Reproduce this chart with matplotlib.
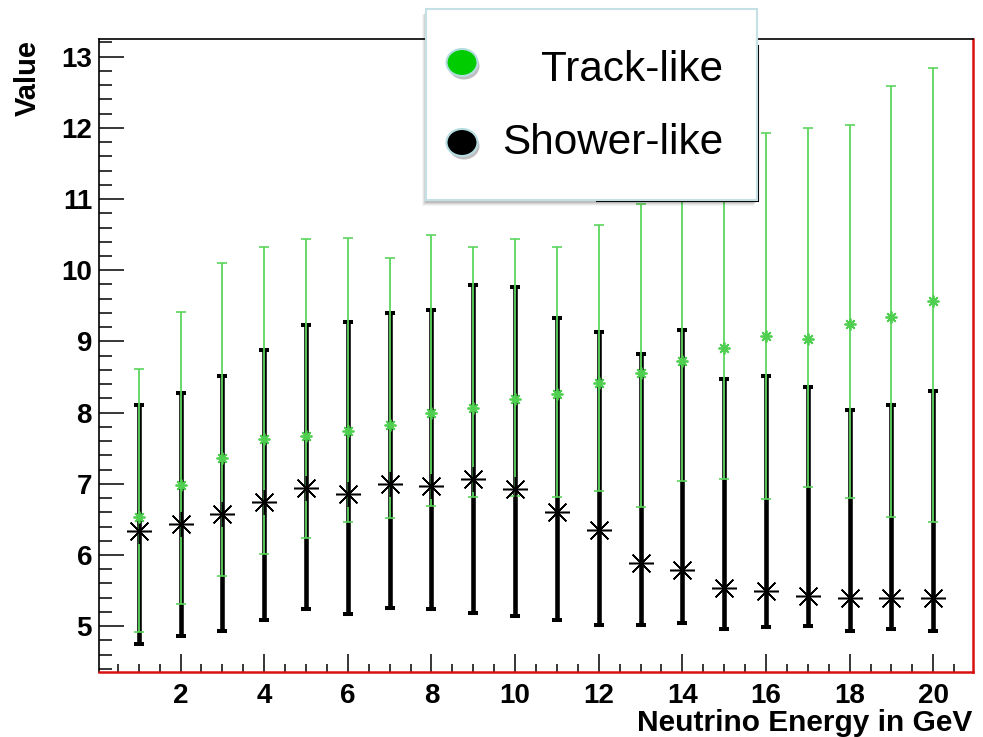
import matplotlib
matplotlib.use("Agg")

import matplotlib.pyplot as plt
import numpy as np
from matplotlib.patches import Ellipse, Rectangle
from matplotlib.ticker import MultipleLocator


# energia del neutrino (GeV), un punto por bin
energia = np.arange(1, 21)

# Track-like: valor central, limite inferior y superior de la banda
track_val = [6.54, 6.99, 7.36, 7.63, 7.67, 7.74, 7.82, 7.99, 8.07, 8.19,
             8.26, 8.41, 8.56, 8.73, 8.91, 9.08, 9.03, 9.25, 9.34, 9.57]
track_low = [4.92, 5.31, 5.70, 6.02, 6.24, 6.47, 6.52, 6.69, 6.82, 6.83,
             6.81, 6.90, 6.68, 7.04, 7.07, 6.79, 6.95, 6.80, 6.53, 6.46]
track_up = [8.61, 9.42, 10.10, 10.33, 10.44, 10.46, 10.17, 10.49, 10.32, 10.44,
            10.32, 10.64, 10.93, 11.25, 11.55, 11.93, 12.00, 12.04, 12.59, 12.84]

# Shower-like
shower_val = [6.33, 6.44, 6.58, 6.74, 6.94, 6.86, 7.00, 6.97, 7.07, 6.92,
              6.61, 6.35, 5.89, 5.79, 5.54, 5.49, 5.43, 5.39, 5.39, 5.39]
shower_low = [4.75, 4.86, 4.93, 5.08, 5.24, 5.17, 5.25, 5.24, 5.19, 5.14,
              5.08, 5.02, 5.01, 5.05, 4.96, 4.99, 5.00, 4.93, 4.96, 4.93]
shower_up = [8.11, 8.27, 8.51, 8.88, 9.23, 9.28, 9.40, 9.44, 9.79, 9.76,
             9.33, 9.13, 8.82, 9.16, 8.47, 8.51, 8.36, 8.03, 8.11, 8.30]

etiquetas = ["Track-like", "Shower-like"]

verde_linea = "#5cd65c"
verde_marca = "#4fcf4f"
rojo_marco = "#d81010"


def barras(val, low, up):
    val = np.array(val)
    return [val - np.array(low), np.array(up) - val]


plt.rcParams["font.family"] = ["Liberation Sans", "DejaVu Sans"]

fig = plt.figure(figsize=(9.83, 7.37), dpi=100)
ax = fig.add_axes([99 / 983, 1 - 672 / 737, 874 / 983, 633 / 737])

# shower-like: barras gruesas negras
ax.errorbar(energia, shower_val, yerr=barras(shower_val, shower_low, shower_up),
            fmt="none", ecolor="black", elinewidth=3.3, capsize=3.85,
            capthick=2.9, zorder=2)

# track-like: barras finas verdes por encima
ax.errorbar(energia, track_val, yerr=barras(track_val, track_low, track_up),
            fmt="none", ecolor=verde_linea, elinewidth=1.3, capsize=3.85,
            capthick=1.2, zorder=3)

ax.plot(energia, shower_val, linestyle="none", marker=(8, 2, 0),
        markersize=18, markeredgewidth=1.1, color="black", zorder=4)
ax.plot(energia, track_val, linestyle="none", marker=(8, 2, 0),
        markersize=8.5, markeredgewidth=1.3, color=verde_marca, zorder=5)

ax.set_xlim(0.05, 20.95)
ax.set_ylim(4.356, 13.249)

ax.xaxis.set_major_locator(MultipleLocator(2))
ax.xaxis.set_minor_locator(MultipleLocator(0.5))
ax.yaxis.set_major_locator(MultipleLocator(1))
ax.yaxis.set_minor_locator(MultipleLocator(0.2))

ax.tick_params(axis="x", which="major", direction="in", length=13, width=1.1,
               pad=8, labelsize=20)
ax.tick_params(axis="x", which="minor", direction="in", length=6, width=1.1)
ax.tick_params(axis="y", which="major", direction="in", length=18, width=1.1,
               pad=5, labelsize=20)
ax.tick_params(axis="y", which="minor", direction="in", length=9, width=1.1)

for lab in ax.get_xticklabels() + ax.get_yticklabels():
    lab.set_fontweight("bold")

ax.spines["left"].set_linewidth(1.2)
ax.spines["top"].set_linewidth(1.2)
ax.spines["bottom"].set_color(rojo_marco)
ax.spines["bottom"].set_linewidth(1.8)
ax.spines["right"].set_color(rojo_marco)
ax.spines["right"].set_linewidth(1.8)

fig.text(972 / 983, 1 - 723 / 737, "Neutrino Energy in GeV", ha="right",
         va="center", fontsize=21.5, fontweight="bold")
fig.text(28 / 983, 1 - 40 / 737, "Value", ha="center", va="top",
         rotation=90, fontsize=21, fontweight="bold")

# capa en pixeles para la leyenda
ov = fig.add_axes([0, 0, 1, 1], zorder=10)
ov.set_xlim(0, 983)
ov.set_ylim(737, 0)
ov.axis("off")
ov.patch.set_alpha(0)

# marco original de la leyenda, casi tapado
ov.add_patch(Rectangle((597, 46), 161, 155, facecolor="white",
                       edgecolor="black", linewidth=1.5))

# sombra de la caja
for i, a in enumerate([0.10, 0.08, 0.06, 0.04]):
    ov.add_patch(Rectangle((426 - 1 - i, 8.5 + 3 + i), 330.5, 191.5,
                           facecolor="black", edgecolor="none", alpha=a))

ov.add_patch(Rectangle((426, 8.5), 330.5, 191.5, facecolor="white",
                       edgecolor="#c4e0e4", linewidth=1.5))

colores = ["#00cc00", "black"]
filas_y = [62.5, 142.5]
bases_y = [81, 154]

for etiqueta, color, yc, yb in zip(etiquetas, colores, filas_y, bases_y):
    ov.add_patch(Ellipse((464, yc + 3.5), 31, 27, facecolor="black",
                         edgecolor="none", alpha=0.25))
    ov.add_patch(Ellipse((462, yc), 31, 27, facecolor=color,
                         edgecolor="#b5dde0", linewidth=1.5))
    ov.text(723, yb, etiqueta, ha="right", va="baseline", fontsize=30.4)

fig.savefig("out.png", dpi=100)
